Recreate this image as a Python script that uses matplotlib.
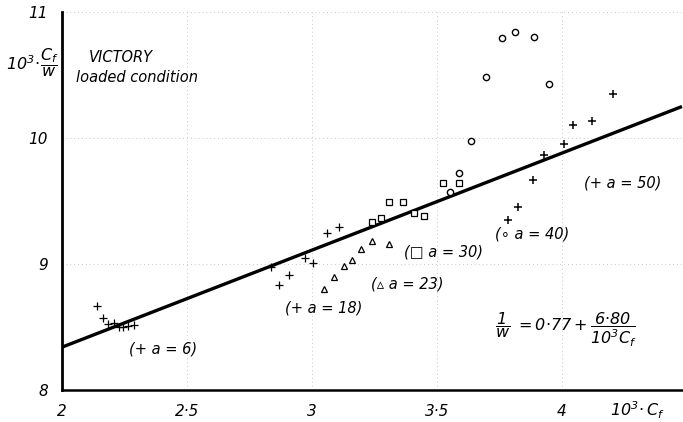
import matplotlib
matplotlib.use("Agg")
import matplotlib.pyplot as plt

plt.rcParams['font.family'] = ['DejaVu Sans']
plt.rcParams['mathtext.fontset'] = 'custom'
plt.rcParams['mathtext.rm'] = 'DejaVu Sans:italic'
plt.rcParams['mathtext.it'] = 'DejaVu Sans:italic'
plt.rcParams['mathtext.default'] = 'it'

# ---- data ----
a6_x = [2.141, 2.163, 2.183, 2.209, 2.229, 2.245, 2.263, 2.288]
a6_y = [8.667, 8.569, 8.524, 8.534, 8.502, 8.502, 8.508, 8.513]

a18_x = [2.835, 2.869, 2.908, 2.972, 3.005, 3.061, 3.109]
a18_y = [8.974, 8.830, 8.913, 9.050, 9.005, 9.249, 9.296]

a23_x = [3.048, 3.089, 3.129, 3.159, 3.196, 3.241, 3.308]
a23_y = [8.799, 8.899, 8.984, 9.032, 9.116, 9.183, 9.156]

a30_x = [3.239, 3.275, 3.309, 3.363, 3.408, 3.448, 3.523, 3.589]
a30_y = [9.330, 9.362, 9.495, 9.495, 9.402, 9.381, 9.640, 9.640]

a40_x = [3.552, 3.586, 3.635, 3.696, 3.759, 3.813, 3.887, 3.947]
a40_y = [9.574, 9.720, 9.979, 10.487, 10.790, 10.845, 10.804, 10.429]

a50_x = [3.785, 3.825, 3.885, 3.928, 4.009, 4.045, 4.119, 4.205]
a50_y = [9.349, 9.455, 9.667, 9.865, 9.952, 10.103, 10.135, 10.346]

fit_x = [2.0, 4.48]
fit_y = [8.34, 10.25]

x_ticks = [2, 2.5, 3, 3.5, 4]
x_ticklabels = ['2', '2·5', '3', '3·5', '4']
y_ticks = [8, 9, 10, 11]
y_ticklabels = ['8', '9', '10', '11']

# ---- figure ----
fig = plt.figure(figsize=(6.83, 4.22), dpi=100)
ax = fig.add_axes([62/683, 1 - 390/422, 1 - 62/683, (390 - 12)/422])
ax.set_xlim(2, 4.484)
ax.set_ylim(8, 11)

for s in ['top', 'right']:
    ax.spines[s].set_visible(False)
ax.spines['left'].set_linewidth(2.0)
ax.spines['bottom'].set_linewidth(1.8)

# faint graph-paper grid
for gx in x_ticks[1:]:
    ax.axvline(gx, color='#c8c8c8', lw=0.7, ls=(0, (1, 3)), zorder=0)
for gy in y_ticks[1:]:
    ax.axhline(gy, color='#c8c8c8', lw=0.7, ls=(0, (1, 3)), zorder=0)

ax.plot(fit_x, fit_y, color='black', lw=2.4, zorder=2, solid_capstyle='butt')

mk = dict(color='black', linestyle='none', zorder=3)
ax.plot(a6_x, a6_y, marker='+', ms=5.5, mew=0.9, **mk)
ax.plot(a18_x, a18_y, marker='+', ms=5.5, mew=0.9, **mk)
ax.plot(a23_x, a23_y, marker='^', ms=4.2, mew=0.9, mfc='white', **mk)
ax.plot(a30_x, a30_y, marker='s', ms=3.8, mew=0.9, mfc='white', **mk)
ax.plot(a40_x, a40_y, marker='o', ms=4.5, mew=1.0, mfc='white', **mk)
ax.plot(a50_x, a50_y, marker='+', ms=5.5, mew=1.1, **mk)

ax.set_xticks(x_ticks)
ax.set_xticklabels(x_ticklabels)
ax.set_yticks(y_ticks)
ax.set_yticklabels(y_ticklabels)
ax.tick_params(length=0, labelsize=11, pad=10)
for lab in ax.get_xticklabels() + ax.get_yticklabels():
    lab.set_style('italic')

tk = dict(fontsize=10.5, style='italic', ha='center', va='center')
ax.text(2.404, 8.325, '(+ a = 6)', **tk)
ax.text(3.048, 8.650, '(+ a = 18)', **tk)
ax.text(3.380, 8.840, '(\u25b5 a = 23)', **tk)
ax.text(3.528, 9.095, '(\u25a1 a = 30)', **tk)
ax.text(3.880, 9.238, '(\u2218 a = 40)', **tk)
ax.text(4.244, 9.643, '(+ a = 50)', **tk)

fig.text(89/683, 1 - 57/422, 'VICTORY', fontsize=10.5, style='italic',
         ha='left', va='center')
fig.text(76/683, 1 - 77/422, 'loaded condition', fontsize=10.5,
         style='italic', ha='left', va='center')

fig.text(32/683, 1 - 63/422, r'$10^{3}\!\cdot\!\dfrac{C_f}{w}$',
         fontsize=11.5, ha='center', va='center')
fig.text(638/683, 1 - 410/422, r'$10^{3}\!\cdot C_f$',
         fontsize=11.5, ha='center', va='center')
fig.text(566/683, 1 - 330/422,
         r'$\dfrac{1}{w}\ = 0{\cdot}77 + \dfrac{6{\cdot}80}{10^{3} C_f}$',
         fontsize=11.5, ha='center', va='center')

fig.savefig('out.png', dpi=100)
